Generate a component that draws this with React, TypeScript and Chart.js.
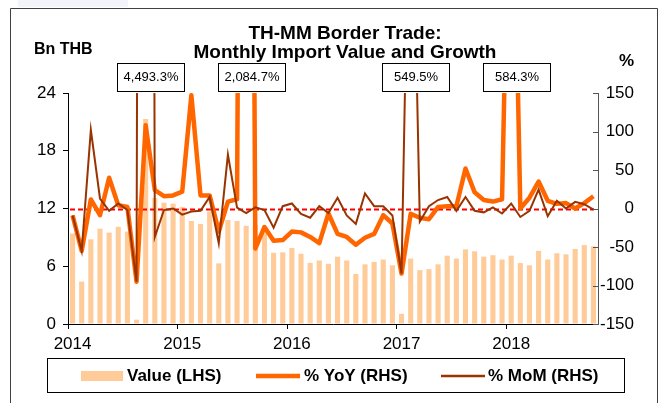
import React, { useEffect, useRef } from 'react';
import { Chart, registerables } from 'chart.js';

Chart.register(...registerables);

const FONT = '"Liberation Sans", Arial, sans-serif';

// Monthly categories, Jan 2014 - Oct 2018
const months: string[] = [
  'Jan-14', 'Feb-14', 'Mar-14', 'Apr-14', 'May-14', 'Jun-14', 'Jul-14', 'Aug-14', 'Sep-14', 'Oct-14', 'Nov-14', 'Dec-14',
  'Jan-15', 'Feb-15', 'Mar-15', 'Apr-15', 'May-15', 'Jun-15', 'Jul-15', 'Aug-15', 'Sep-15', 'Oct-15', 'Nov-15', 'Dec-15',
  'Jan-16', 'Feb-16', 'Mar-16', 'Apr-16', 'May-16', 'Jun-16', 'Jul-16', 'Aug-16', 'Sep-16', 'Oct-16', 'Nov-16', 'Dec-16',
  'Jan-17', 'Feb-17', 'Mar-17', 'Apr-17', 'May-17', 'Jun-17', 'Jul-17', 'Aug-17', 'Sep-17', 'Oct-17', 'Nov-17', 'Dec-17',
  'Jan-18', 'Feb-18', 'Mar-18', 'Apr-18', 'May-18', 'Jun-18', 'Jul-18', 'Aug-18', 'Sep-18', 'Oct-18',
];

const yearTicks: string[] = ['2014', '2015', '2016', '2017', '2018'];

// Value (LHS), Bn THB
const valueLHS: number[] = [
  9.4, 4.4, 8.8, 9.9, 9.5, 10.1, 9.6, 0.45, 21.3, 13.1, 12.6, 12.5,
  12.15, 10.7, 10.4, 11.7, 6.3, 10.8, 10.7, 10.2, 10.3, 9.9, 7.4, 7.45,
  7.9, 7.3, 6.35, 6.6, 6.25, 7.0, 6.6, 5.2, 6.2, 6.45, 6.7, 6.1,
  1.06, 6.8, 5.6, 5.7, 6.2, 7.1, 6.8, 7.75, 7.55, 7.0, 7.15, 6.7,
  7.1, 6.33, 6.1, 7.6, 6.7, 7.35, 7.24, 7.8, 8.2, 8.07,
];

// % YoY (RHS)
const yoyRHS: number[] = [
  -9, -55, 11.7, -8.7, 40, 4.3, 2, -95, 108, 24, 16, 17,
  22, 147, 17, 17, -30, 9, 12, 2084.7, -52, -24, -42, -41,
  -30, -31, -37, -45, -6.5, -33, -37, -47, -38, -33, -8.7, -19.5,
  -84.5, -7, -12, -14, 2, 3, 3, 52, 21, 11, 9, 12,
  584.3, 0, 14, 35, 10, 6, 7, 0, 7, 16,
];

// % MoM (RHS)
const momRHS: number[] = [
  -9, -55, 102, 13, -3, 6.5, -2, -95, 4493.3, -37, -2, 0,
  -8, -4, -3, 15, -45, 70, 1, -6, 1.5, -2, -25, 3,
  6.5, -7, -12, 3, -6, 14, -9, -20, 19.5, 3, 3, -9,
  -84.5, 549.5, -17, 3, 11, 15, -3, 15, -3, -5, 1.5, -6.5,
  6.5, -11, -3, 24.6, -10, 10, 0, 8.6, 5.6, -1.5,
];

// Off-scale callouts
const calloutIndex: number[] = [8, 19, 37, 48];
const calloutSeries: string[] = ['mom', 'yoy', 'mom', 'yoy'];

const titleLines: string[] = ['TH-MM Border Trade:', 'Monthly Import Value and Growth'];
const legendLabels: string[] = ['Value (LHS)', '% YoY (RHS)', '% MoM (RHS)'];

const BAR_COLOR = '#FFCC99';
const YOY_COLOR = '#FF6600';
const MOM_COLOR = '#993300';

function fmtPct(v: number): string {
  return v.toLocaleString('en-US', { minimumFractionDigits: 1, maximumFractionDigits: 1 }) + '%';
}

export default function App() {
  const ref = useRef<HTMLCanvasElement>(null);

  useEffect(() => {
    const canvas = ref.current!;

    const decor = {
      id: 'decor',
      beforeDraw(chart: any) {
        const ctx = chart.ctx;
        ctx.save();
        ctx.fillStyle = '#ffffff';
        ctx.fillRect(0, 0, chart.width, chart.height);
        ctx.fillStyle = 'rgba(215,220,242,0.3)';
        ctx.fillRect(18, 0, 110, 7);
        ctx.strokeStyle = '#404040';
        ctx.lineWidth = 1;
        ctx.beginPath();
        ctx.moveTo(10.5, 404);
        ctx.lineTo(10.5, 8.5);
        ctx.lineTo(657.5, 8.5);
        ctx.lineTo(657.5, 404);
        ctx.stroke();
        ctx.restore();
      },
      beforeDatasetDraw(chart: any, args: any) {
        if (args.index !== 1) return;
        const ctx = chart.ctx;
        const y1 = chart.scales.y1;
        const a = chart.chartArea;
        const y = Math.round(y1.getPixelForValue(0)) + 0.5;
        ctx.save();
        ctx.strokeStyle = '#FF0000';
        ctx.lineWidth = 2;
        ctx.setLineDash([5, 3]);
        ctx.beginPath();
        ctx.moveTo(a.left + 2, y);
        ctx.lineTo(a.right - 4, y);
        ctx.stroke();
        ctx.restore();
      },
      afterDraw(chart: any) {
        const ctx = chart.ctx;
        const a = chart.chartArea;
        const xs = chart.scales.x;
        const y1 = chart.scales.y1;
        ctx.save();

        // inner ticks on right axis
        ctx.strokeStyle = '#555555';
        ctx.lineWidth = 1;
        const rticks = y1.ticks;
        for (const t of rticks) {
          const y = Math.round(y1.getPixelForValue(t.value)) + 0.5;
          ctx.beginPath();
          ctx.moveTo(a.right - 5, y);
          ctx.lineTo(a.right, y);
          ctx.stroke();
        }

        // Titles
        ctx.fillStyle = '#000';
        ctx.textBaseline = 'alphabetic';
        ctx.textAlign = 'center';
        ctx.font = `bold 19px ${FONT}`;
        ctx.fillText(titleLines[0], 345, 39);
        ctx.fillText(titleLines[1], 345, 58);

        ctx.textAlign = 'left';
        ctx.font = `bold 16px ${FONT}`;
        ctx.fillText('Bn THB', 34, 54);
        ctx.font = `bold 17px ${FONT}`;
        ctx.fillText('%', 619, 66);

        // Callouts
        for (let k = 0; k < calloutIndex.length; k++) {
          const idx = calloutIndex[k];
          const v = calloutSeries[k] === 'mom' ? momRHS[idx] : yoyRHS[idx];
          const cx = xs.getPixelForValue(idx) + 5;
          const w = 67;
          const h = 28;
          const left = Math.round(cx - w / 2) + 0.5;
          const top = 63.5;
          ctx.fillStyle = '#fff';
          ctx.fillRect(left, top, w, h);
          ctx.strokeStyle = '#000';
          ctx.lineWidth = 1;
          ctx.strokeRect(left, top, w, h);
          ctx.fillStyle = '#000';
          ctx.font = `13px ${FONT}`;
          ctx.textAlign = 'center';
          ctx.textBaseline = 'middle';
          ctx.fillText(fmtPct(v), left + w / 2, top + h / 2);
        }

        // Legend
        ctx.strokeStyle = '#000';
        ctx.lineWidth = 1;
        ctx.strokeRect(47.5, 358.5, 577, 34);
        ctx.fillStyle = BAR_COLOR;
        ctx.fillRect(81, 371, 42, 10);
        ctx.strokeStyle = YOY_COLOR;
        ctx.lineWidth = 4.5;
        ctx.beginPath();
        ctx.moveTo(256, 376);
        ctx.lineTo(300, 376);
        ctx.stroke();
        ctx.strokeStyle = MOM_COLOR;
        ctx.lineWidth = 2.5;
        ctx.beginPath();
        ctx.moveTo(441, 376);
        ctx.lineTo(485, 376);
        ctx.stroke();
        ctx.fillStyle = '#000';
        ctx.font = `bold 17px ${FONT}`;
        ctx.textAlign = 'left';
        ctx.textBaseline = 'alphabetic';
        ctx.fillText(legendLabels[0], 127, 381);
        ctx.fillText(legendLabels[1], 304, 381);
        ctx.fillText(legendLabels[2], 488, 381);

        ctx.restore();
      },
    };

    const chart = new Chart(canvas, {
      type: 'bar',
      data: {
        labels: months,
        datasets: [
          {
            type: 'bar',
            label: legendLabels[0],
            data: valueLHS,
            backgroundColor: BAR_COLOR,
            borderWidth: 0,
            yAxisID: 'y',
            barPercentage: 0.56,
            categoryPercentage: 1,
            order: 3,
          } as any,
          {
            type: 'line',
            label: legendLabels[1],
            data: yoyRHS,
            borderColor: YOY_COLOR,
            borderWidth: 4.5,
            pointRadius: 0,
            yAxisID: 'y1',
            order: 2,
            clip: 0,
            tension: 0,
            borderJoinStyle: 'round',
          } as any,
          {
            type: 'line',
            label: legendLabels[2],
            data: momRHS,
            borderColor: MOM_COLOR,
            borderWidth: 2,
            pointRadius: 0,
            yAxisID: 'y1',
            order: 1,
            clip: 0,
            tension: 0,
          } as any,
        ],
      },
      options: {
        responsive: false,
        maintainAspectRatio: false,
        animation: false,
        devicePixelRatio: 1,
        events: [],
        layout: { padding: { left: 0, right: 34, top: 93, bottom: 0 } },
        plugins: {
          legend: { display: false },
          title: { display: false },
          tooltip: { enabled: false },
        },
        scales: {
          x: {
            type: 'category',
            offset: true,
            grid: {
              offset: true,
              drawOnChartArea: false,
              tickLength: 5,
              color: (c: any) => (c.index % 12 === 0 ? '#000' : 'rgba(0,0,0,0)'),
            },
            border: { display: true, color: '#000', width: 1 },
            ticks: {
              autoSkip: false,
              maxRotation: 0,
              minRotation: 0,
              padding: 5,
              color: '#000',
              font: { family: FONT, size: 17 },
              callback: (_v: any, i: number) => (i % 12 === 0 ? yearTicks[i / 12] : ''),
            },
            afterFit: (s: any) => { s.height = 79; },
          },
          y: {
            position: 'left',
            min: 0,
            max: 24,
            grid: { drawOnChartArea: false, tickLength: 5, color: '#000' },
            border: { display: true, color: '#000', width: 1 },
            ticks: {
              stepSize: 6,
              padding: 7,
              color: '#000',
              font: { family: FONT, size: 17 },
            },
            afterFit: (s: any) => { s.width = 68; },
          },
          y1: {
            position: 'right',
            min: -150,
            max: 150,
            grid: { drawOnChartArea: false, drawTicks: false },
            border: { display: true, color: '#555555', width: 1 },
            ticks: {
              stepSize: 50,
              padding: 0,
              crossAlign: 'far',
              color: '#000',
              font: { family: FONT, size: 17 },
            },
            afterFit: (s: any) => { s.width = 36; },
          },
        },
      } as any,
      plugins: [decor],
    });

    return () => chart.destroy();
  }, []);

  return (
    <div style={{ position: 'fixed', left: 0, top: 0, width: 668, height: 403, background: '#fff' }}>
      <canvas ref={ref} width={668} height={403} style={{ display: 'block', width: 668, height: 403 }} />
    </div>
  );
}
